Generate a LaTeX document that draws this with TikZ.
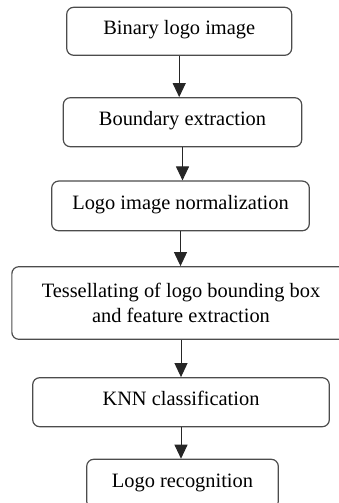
\documentclass[tikz,border=0pt]{standalone}
\usepackage{fontspec}
\setmainfont{Liberation Serif}
\usetikzlibrary{arrows.meta}
\begin{document}
\begin{tikzpicture}[x=1pt,y=-1pt,
  stepbox/.style={draw=black!70, line width=1.2pt, rounded corners=7pt,
    inner sep=0pt, align=center, font=\fontsize{20.4}{25}\selectfont},
  oneline/.style={stepbox, text height=12.5pt, text depth=6pt},
  flow/.style={draw=black!85, line width=1pt,
    -{Triangle[width=13pt,length=14pt]}}]
\useasboundingbox (0,0) rectangle (339,503);
\clip (0,0) rectangle (339,503);
\node[oneline, minimum width=225pt, minimum height=48pt] (b1) at (179.2,31.3) {Binary logo image};
\node[oneline, minimum width=238.4pt, minimum height=49pt] (b2) at (182.5,122.2) {Boundary extraction};
\node[oneline, minimum width=257.6pt, minimum height=49.7pt] (b3) at (180.5,205.9) {Logo image normalization};
\node[stepbox, minimum width=338.3pt, minimum height=72.6pt] (b4) at (181,303) {Tessellating of logo bounding box\\and feature extraction};
\node[oneline, minimum width=296.6pt, minimum height=49pt] (b5) at (181,402.2) {KNN classification};
\node[oneline, minimum width=191.6pt, minimum height=49pt] (b6) at (182.5,483.8) {Logo recognition};
\draw[flow] (b1.south) -- (b1.south |- b2.north);
\draw[flow] (b2.south) -- (b2.south |- b3.north);
\draw[flow] (b3.south) -- (b3.south |- b4.north);
\draw[flow] (b4.south) -- (b4.south |- b5.north);
\draw[flow] (b5.south) -- (b5.south |- b6.north);
\end{tikzpicture}
\end{document}
